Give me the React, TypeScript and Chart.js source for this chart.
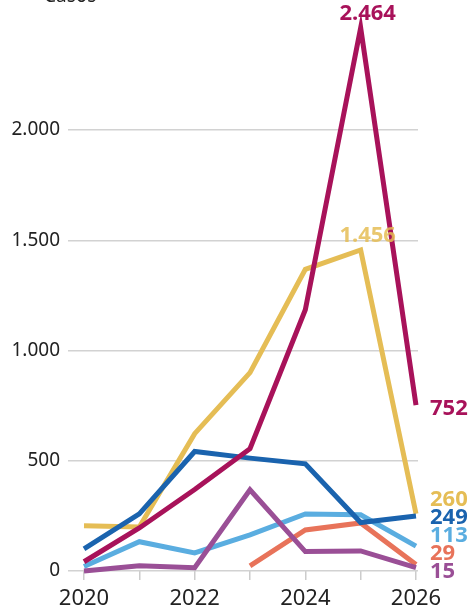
import React, { useEffect, useRef } from "react";
import { Chart, registerables } from "chart.js";

Chart.register(...registerables);

const years = [2020, 2021, 2022, 2023, 2024, 2025, 2026];
const yTicks = [0, 500, 1000, 1500, 2000];
const axisTitle = "Casos";

const seriesMagenta = [42, 195, 370, 555, 1185, 2464, 752];
const seriesBlue = [100, 259, 542, 512, 486, 220, 249];
const seriesYellow = [205, 200, 623, 900, 1368, 1456, 260];
const seriesPurple = [0, 24, 15, 368, 88, 91, 15];
const seriesOrange = [null, null, null, 23, 186, 218, 29];
const seriesLightBlue = [20, 133, 82, 164, 259, 255, 113];

const colMagenta = "#A8125A";
const colBlue = "#1A63AE";
const colYellow = "#E5BD55";
const colPurple = "#9A4F96";
const colOrange = "#E8735A";
const colLightBlue = "#5AADE0";

const allSeries = [seriesMagenta, seriesBlue, seriesYellow, seriesPurple, seriesOrange, seriesLightBlue];

const peakLabels = [
  { dataset: 0, index: 5, text: "2.464" },
  { dataset: 2, index: 5, text: "1.456" },
];

const fmt = (v: number) => v.toLocaleString("de-DE");

export default function App() {
  const ref = useRef<HTMLCanvasElement | null>(null);

  useEffect(() => {
    const canvas = ref.current;
    if (!canvas) return;

    const endLabels = {
      id: "endLabels",
      afterDatasetsDraw(chart: any) {
        const ctx = chart.ctx;
        const xs = chart.scales.x;
        const ys = chart.scales.y;
        ctx.save();
        ctx.font = "bold 22px 'Noto Sans'";
        ctx.textAlign = "center";
        ctx.textBaseline = "middle";
        peakLabels.forEach((p) => {
          const ds = chart.data.datasets[p.dataset];
          const v = allSeries[p.dataset][p.index] as number;
          const px = xs.getPixelForValue(years[p.index]) + 7;
          const py = ys.getPixelForValue(v) - 14;
          ctx.fillStyle = ds.borderColor;
          ctx.globalAlpha = p.dataset === 2 ? 0.85 : 1;
          ctx.fillText(p.text, px, py);
        });
        ctx.globalAlpha = 1;
        const items = chart.data.datasets.map((ds: any, i: number) => {
          const s = allSeries[i];
          const v = s[s.length - 1] as number;
          return { v, color: ds.borderColor, py: ys.getPixelForValue(v) + 4, y: 0 };
        });
        items.sort((a: any, b: any) => b.py - a.py);
        let prev = Infinity;
        const maxY = ys.bottom + 1;
        items.forEach((it: any) => {
          const y = Math.min(it.py, prev - 18, maxY);
          it.y = y;
          prev = y;
        });
        ctx.textAlign = "left";
        const lx = xs.getPixelForValue(years[years.length - 1]) + 14;
        items.forEach((it: any) => {
          ctx.fillStyle = it.color;
          ctx.fillText(fmt(it.v), lx, it.y);
        });
        ctx.font = "19px 'Noto Sans'";
        ctx.fillStyle = "#222";
        ctx.textAlign = "left";
        ctx.textBaseline = "alphabetic";
        ctx.fillText(axisTitle, 44, 2);
        ctx.restore();
      },
    };

    const mk = (label: string, data: any[], color: string) => ({
      label,
      data: data.map((v, i) => ({ x: years[i], y: v })),
      borderColor: color,
      backgroundColor: color,
      borderWidth: 5,
      pointRadius: 0,
      tension: 0,
      fill: false,
      spanGaps: false,
      clip: false as any,
      borderCapStyle: "butt" as any,
      borderJoinStyle: "miter" as any,
    });

    const chart = new Chart(canvas, {
      type: "line",
      data: {
        datasets: [
          mk("magenta", seriesMagenta, colMagenta),
          mk("blue", seriesBlue, colBlue),
          mk("yellow", seriesYellow, colYellow),
          mk("purple", seriesPurple, colPurple),
          mk("orange", seriesOrange, colOrange),
          mk("lightblue", seriesLightBlue, colLightBlue),
        ],
      },
      options: {
        animation: false,
        responsive: false,
        maintainAspectRatio: false,
        layout: { padding: { left: 0, right: 57, top: 1, bottom: 0 } },
        plugins: { legend: { display: false }, tooltip: { enabled: false } },
        scales: {
          x: {
            type: "linear",
            min: 2020 - 16 / 55.33,
            max: 2026 + 2 / 55.33,
            afterBuildTicks: (s: any) => {
              s.ticks = years.map((v) => ({ value: v }));
            },
            afterFit: (s: any) => {
              s.height = 39;
            },
            ticks: {
              autoSkip: false,
              maxRotation: 0,
              padding: 6,
              color: "#222",
              font: { family: "'Noto Sans'", size: 22 },
              callback: (v: any) => (Number(v) % 2 === 0 ? String(v) : ""),
            },
            grid: {
              drawOnChartArea: false,
              drawTicks: true,
              tickLength: 9,
              color: "#cccccc",
              lineWidth: 1.5,
            },
            border: { display: false },
          },
          y: {
            type: "linear",
            min: 0,
            max: 2502,
            afterBuildTicks: (s: any) => {
              s.ticks = yTicks.map((v) => ({ value: v }));
            },
            afterFit: (s: any) => {
              s.width = 68;
            },
            ticks: {
              padding: 8,
              color: "#222",
              font: { family: "'Noto Sans'", size: 19 },
              callback: (v: any) => fmt(Number(v)),
            },
            grid: {
              drawTicks: false,
              color: "#d2d2d2",
              lineWidth: 1.5,
            },
            border: { display: false },
          },
        },
      },
      plugins: [endLabels],
    });

    return () => chart.destroy();
  }, []);

  return (
    <div style={{ position: "fixed", left: 0, top: 0, width: 475, height: 610, background: "#fff" }}>
      <canvas ref={ref} width={475} height={610} style={{ width: 475, height: 610, display: "block" }} />
    </div>
  );
}
